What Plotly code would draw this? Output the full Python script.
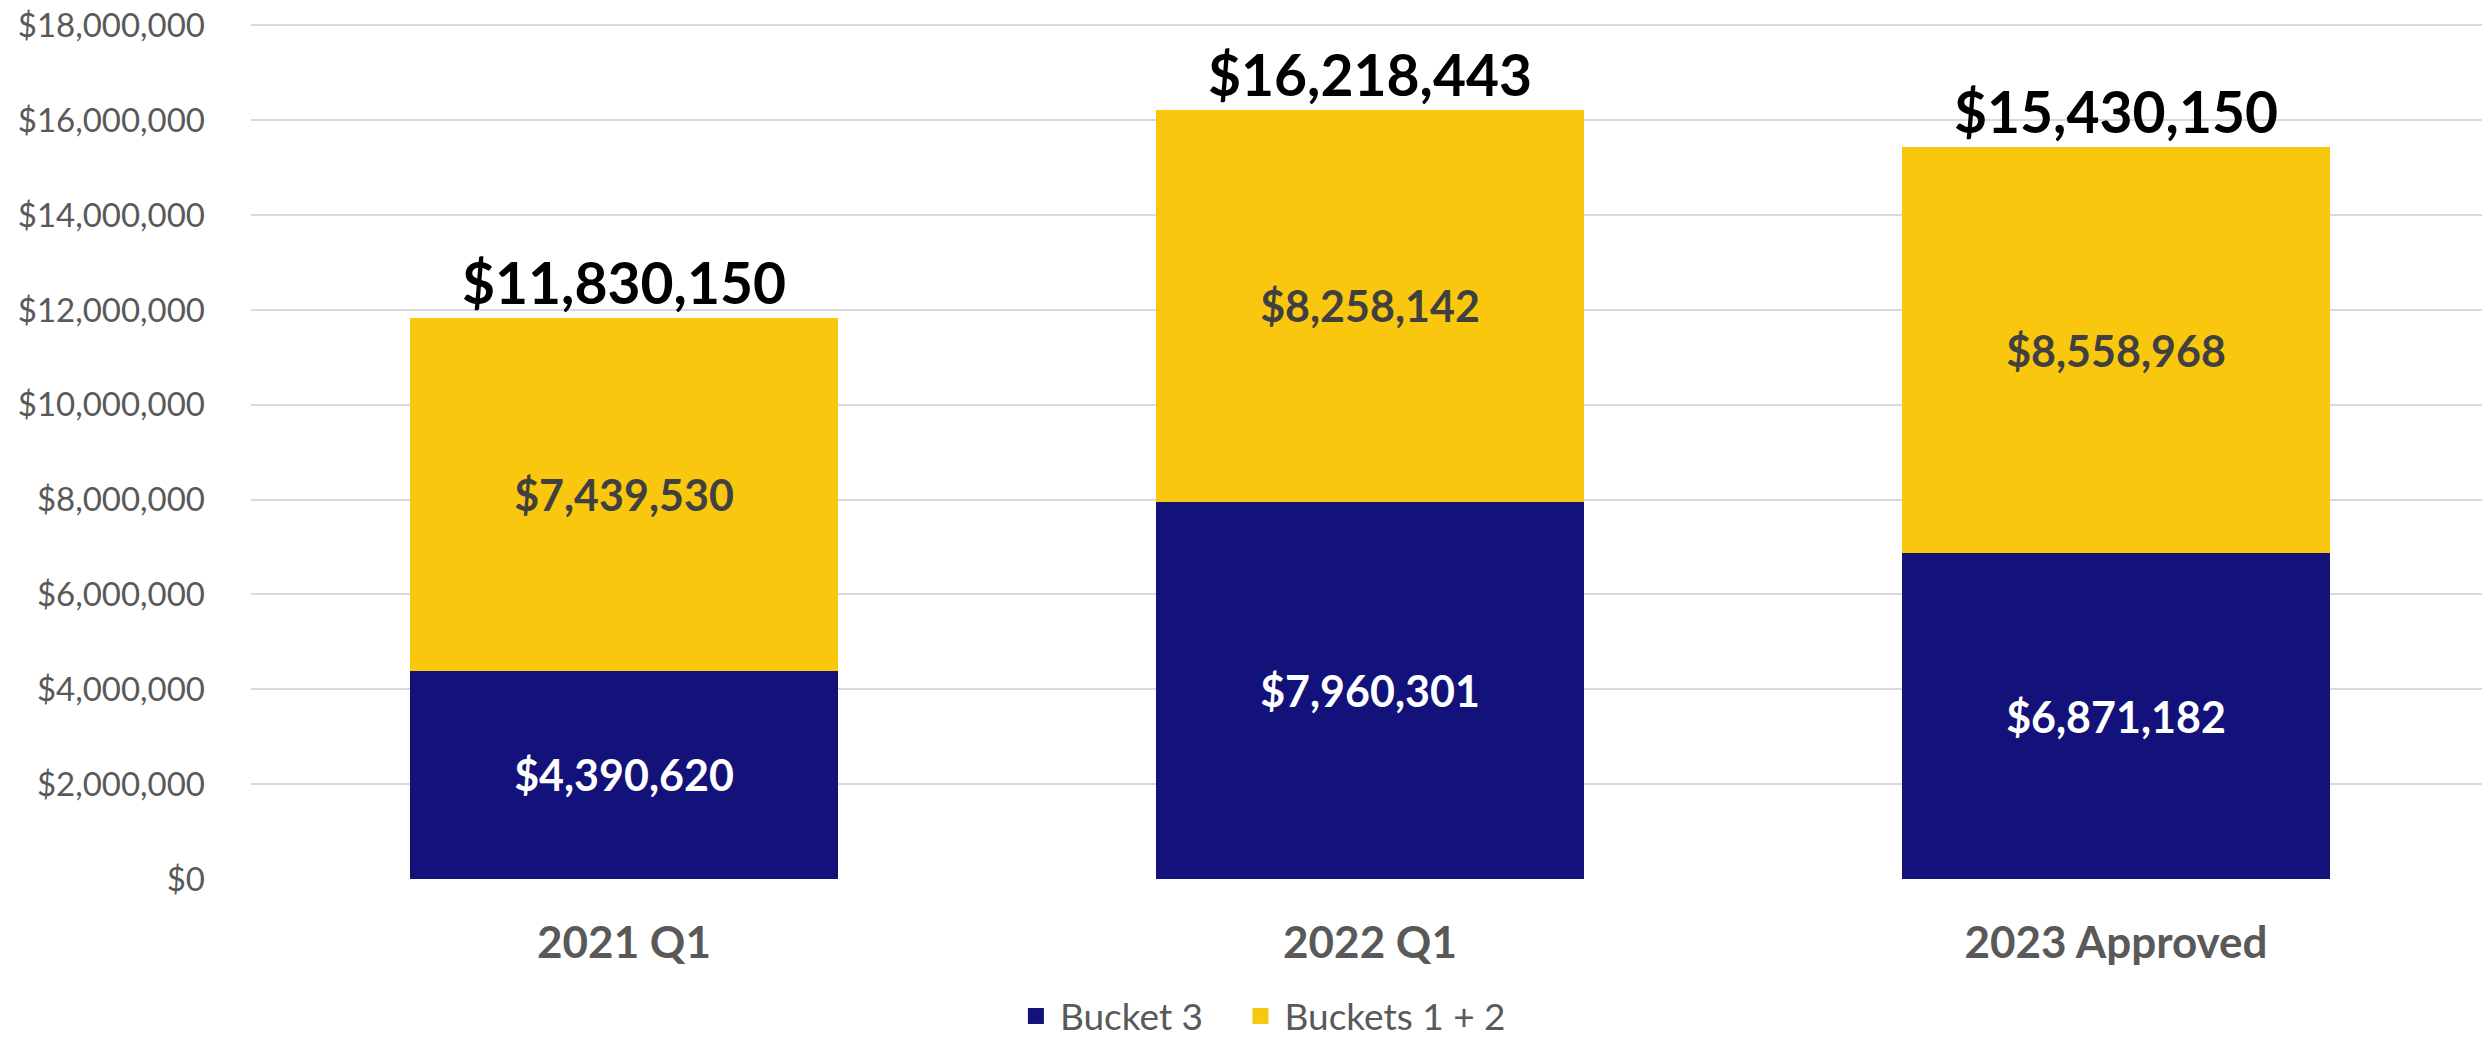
import plotly.graph_objects as go

categories = ["2021 Q1", "2022 Q1", "2023 Approved"]
bucket3 = [4390620, 7960301, 6871182]
buckets12 = [7439530, 8258142, 8558968]
totals = [a + b for a, b in zip(bucket3, buckets12)]
y_ticks = list(range(0, 18000001, 2000000))
y_ticktext = ["${:,.0f}".format(v) for v in y_ticks]

NAVY = "#13117A"
GOLD = "#F9C80E"
FONT = "Lato"

def money(v):
    return "${:,.0f}".format(v)

fig = go.Figure()
fig.add_trace(go.Bar(
    x=categories, y=bucket3, name="Bucket 3", showlegend=False,
    marker=dict(color=NAVY, line=dict(width=0)),
    text=[money(v) for v in bucket3], textposition="inside",
    insidetextanchor="middle", textangle=0, constraintext="none",
    textfont=dict(family=FONT, size=43, color="white", weight="bold"),
    hoverinfo="skip",
))
fig.add_trace(go.Bar(
    x=categories, y=buckets12, name="Buckets 1 + 2", showlegend=False,
    marker=dict(color=GOLD, line=dict(width=0)),
    text=[money(v) for v in buckets12], textposition="inside",
    insidetextanchor="middle", textangle=0, constraintext="none",
    textfont=dict(family=FONT, size=43, color="#404040", weight="bold"),
    hoverinfo="skip",
))
fig.add_trace(go.Scatter(
    x=categories, y=totals, mode="text",
    text=[money(v) for v in totals], textposition="top center",
    textfont=dict(family=FONT, size=57, color="black", weight="bold"),
    showlegend=False, hoverinfo="skip", cliponaxis=False,
))
# legend entries with larger square swatches
legend_names = ["Bucket 3\u00a0\u00a0\u00a0", "Buckets 1 + 2"]
for nm, col in zip(legend_names, [NAVY, GOLD]):
    fig.add_trace(go.Scatter(
        x=[None], y=[None], mode="markers", name=nm,
        marker=dict(symbol="square", size=19, color=col),
        hoverinfo="skip",
    ))

fig.update_layout(
    width=2482, height=1029,
    margin=dict(l=243, r=1, t=16, b=158, autoexpand=False),
    barmode="stack", bargap=0.427,
    plot_bgcolor="white", paper_bgcolor="white",
    font=dict(family=FONT, color="#595959"),
    legend=dict(
        orientation="h", xref="container", x=0.505, xanchor="center",
        yref="container", y=0.02, yanchor="middle",
        font=dict(family=FONT, size=37, color="#595959"),
        traceorder="normal", itemwidth=38,
    ),
    xaxis=dict(
        type="category", showgrid=False, showline=False, zeroline=False,
        ticks="", ticklabelstandoff=34, automargin=False,
        tickfont=dict(family=FONT, size=44, color="#595959", weight="bold"),
    ),
    yaxis=dict(
        range=[0, 18030000], tickvals=y_ticks, ticktext=y_ticktext,
        showgrid=True, gridcolor="#D9D9D9", gridwidth=2, automargin=False,
        zeroline=False, showline=False, ticks="", ticklabelstandoff=45,
        ticklabeloverflow="allow",
        tickfont=dict(family=FONT, size=33, color="#595959"),
    ),
)

fig.write_html("out.html")
